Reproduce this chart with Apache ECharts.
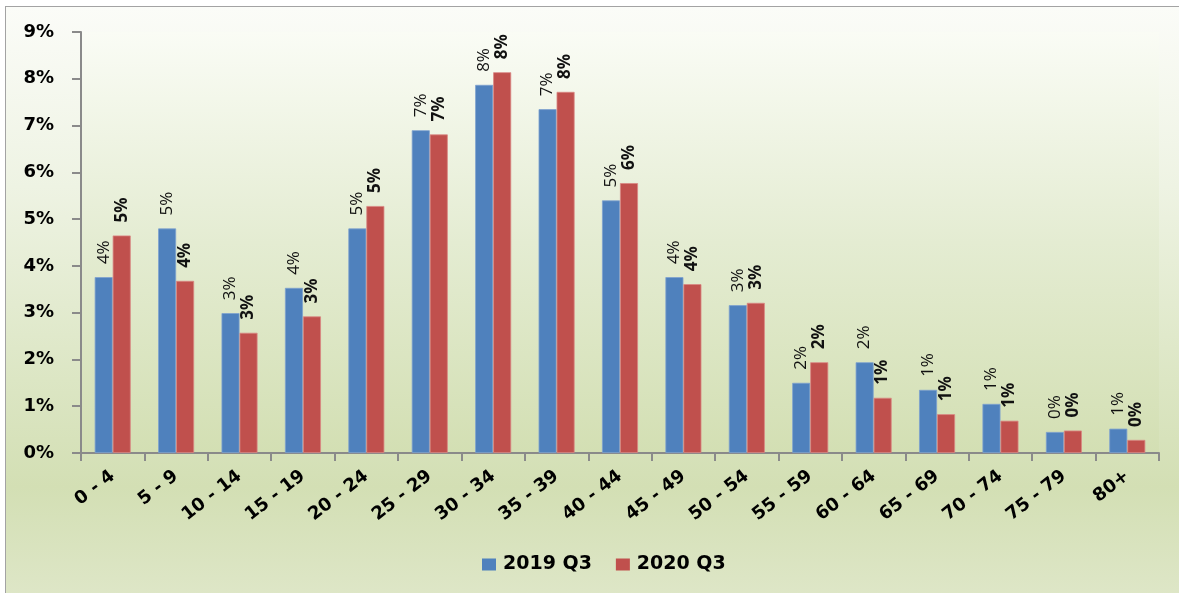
<!DOCTYPE html>
<html>
<head>
<meta charset="utf-8">
<script src="https://cdn.jsdelivr.net/npm/echarts@6/dist/echarts.min.js"></script>
<style>
  html, body { margin: 0; padding: 0; background: #ffffff; }
  #frame {
    position: absolute; left: 5px; top: 6px; width: 1200px; height: 600px;
    border: 1.5px solid #a3a3a3;
    background: linear-gradient(to bottom, #fbfcf8 0%, #eef3e3 30%, #dce6c4 62%, #d3dfb4 80%, #dfe7c9 100%);
  }
  #chart { position: absolute; left: 0; top: 0; width: 1179px; height: 593px; }
</style>
</head>
<body>
<div id="frame"></div>
<div id="chart"></div>
<script>
const categories = ['0 - 4','5 - 9','10 - 14','15 - 19','20 - 24','25 - 29','30 - 34','35 - 39','40 - 44','45 - 49','50 - 54','55 - 59','60 - 64','65 - 69','70 - 74','75 - 79','80+'];
const seriesNames = ['2019 Q3', '2020 Q3'];
const values2019 = [3.76, 4.80, 2.99, 3.53, 4.80, 6.90, 7.87, 7.35, 5.40, 3.76, 3.16, 1.50, 1.94, 1.35, 1.05, 0.45, 0.52];
const values2020 = [4.65, 3.68, 2.57, 2.92, 5.28, 6.81, 8.14, 7.72, 5.77, 3.61, 3.21, 1.94, 1.18, 0.83, 0.69, 0.48, 0.28];
const yTicks = [0, 1, 2, 3, 4, 5, 6, 7, 8, 9];

const chart = echarts.init(document.getElementById('chart'), null, { renderer: 'canvas' });

function barLabel(bold) {
  return {
    show: true,
    position: 'top',
    rotate: 90,
    align: 'left',
    verticalAlign: 'middle',
    distance: 13,
    fontFamily: 'Open Sans',
    fontSize: 17,
    fontWeight: bold ? 'bold' : 'normal',
    color: '#111',
    formatter: p => Math.round(p.value) + '%'
  };
}

chart.setOption({
  backgroundColor: 'transparent',
  animation: false,
  grid: {
    left: 81, right: 20, top: 32, bottom: 140,
    show: true,
    borderWidth: 0,
    backgroundColor: new echarts.graphic.LinearGradient(0, 0, 0, 1, [
      { offset: 0, color: '#fafcf5' },
      { offset: 0.5, color: '#e4ecd2' },
      { offset: 1, color: '#d3dfb3' }
    ])
  },
  legend: {
    data: seriesNames,
    left: 477,
    top: 550,
    itemWidth: 14,
    itemHeight: 12,
    itemGap: 24,
    icon: 'rect',
    itemStyle: { borderWidth: 0 },
    textStyle: {
      fontFamily: 'DejaVu Sans',
      fontWeight: 'bold',
      fontSize: 19,
      color: '#000',
      padding: [0, 0, 0, 2]
    }
  },
  xAxis: {
    type: 'category',
    data: categories,
    boundaryGap: true,
    axisLine: { show: true, lineStyle: { color: '#8a8a8a', width: 2 } },
    axisTick: { show: true, length: 8, lineStyle: { color: '#8a8a8a', width: 2 } },
    axisLabel: {
      rotate: 38,
      margin: 21,
      interval: 0,
      fontFamily: 'DejaVu Sans',
      fontWeight: 'bold',
      fontSize: 18,
      color: '#000'
    },
    splitLine: { show: false }
  },
  yAxis: {
    type: 'value',
    min: yTicks[0],
    max: yTicks[yTicks.length - 1],
    interval: 1,
    axisLine: { show: true, lineStyle: { color: '#8a8a8a', width: 2 } },
    axisTick: { show: true, length: 9, lineStyle: { color: '#8a8a8a', width: 2 } },
    axisLabel: {
      margin: 27,
      fontFamily: 'DejaVu Sans',
      fontWeight: 'bold',
      fontSize: 18,
      color: '#000',
      formatter: v => v + '%'
    },
    splitLine: { show: false }
  },
  series: [
    {
      name: seriesNames[0],
      type: 'bar',
      data: values2019,
      barWidth: 18,
      barGap: '0%',
      itemStyle: { color: '#4f81bd', borderColor: '#7ea1cf', borderWidth: 0.8 },
      label: barLabel(false)
    },
    {
      name: seriesNames[1],
      type: 'bar',
      data: values2020,
      barWidth: 18,
      barGap: '0%',
      itemStyle: { color: '#c0504d', borderColor: '#d98683', borderWidth: 0.8 },
      label: barLabel(true)
    }
  ]
});
</script>
</body>
</html>
